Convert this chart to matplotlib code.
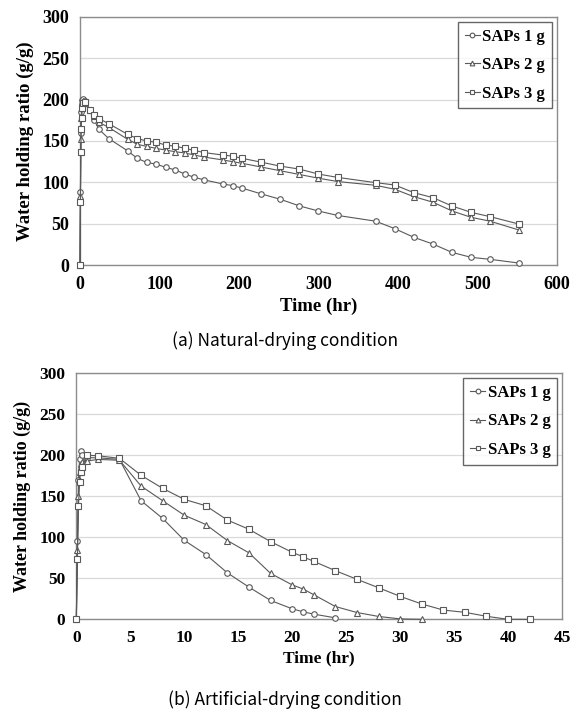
import matplotlib
matplotlib.use("Agg")
import matplotlib.pyplot as plt

# ---------------- Data: (a) natural drying ----------------
t_nat = [0, 0.5, 1, 1.5, 2, 3, 4, 6, 12, 18, 24, 36, 60, 72, 84, 96, 108, 120, 132,
         144, 156, 180, 192, 204, 228, 252, 276, 300, 324, 372, 396, 420, 444, 468,
         492, 516, 552]
nat_1g = [0, 88, 160, 185, 195, 200, 201, 198, 187, 175, 164, 153, 138, 129, 124, 122,
          118, 115, 110, 106, 103, 98, 96, 93, 86, 79.5, 71.5, 65.3, 60, 53, 44, 33.5,
          25.4, 15.3, 9.3, 6.9, 2.4]
nat_2g = [0, 83, 152, 178, 190, 196, 198, 196, 187, 180, 172.5, 166.5, 152, 146, 143.5,
          141, 139, 137, 135.5, 133, 130.6, 127, 125, 123, 118.5, 114, 109.5, 105, 101,
          96.4, 91.6, 82.7, 76, 65.4, 57.7, 53, 42.4]
nat_3g = [0, 76, 137, 165, 178, 190, 196, 197, 188, 182, 177, 171, 158, 153, 150, 148.4,
          145, 143.8, 141, 138.6, 136, 133, 131.7, 129, 124.4, 119.6, 116, 110, 106, 99.6,
          96.8, 87.5, 81.5, 71.4, 63.7, 58.5, 49.6]

# ---------------- Data: (b) artificial drying ----------------
t_art_1g = [0, 0.1, 0.2, 0.3, 0.4, 0.5, 1, 2, 4, 6, 8, 10, 12, 14, 16, 18, 20, 21, 22, 24]
art_1g = [0, 95, 170, 195, 205, 200, 197, 197, 195, 144.6, 123, 96.3, 79, 56.6, 39.2,
          23, 12.8, 9.2, 6.3, 1.8]
t_art_2g = [0, 0.1, 0.2, 0.3, 0.4, 0.5, 1, 2, 4, 6, 8, 10, 12, 14, 16, 18, 20, 21, 22,
            24, 26, 28, 30, 32]
art_2g = [0, 85, 150, 180, 190, 192, 193, 195, 194, 162.5, 144.6, 127, 115.6, 96, 81, 56,
          42, 37, 30, 15.6, 8.3, 3.5, 0.5, 0]
t_art_3g = [0, 0.1, 0.2, 0.3, 0.4, 0.5, 1, 2, 4, 6, 8, 10, 12, 14, 16, 18, 20, 21, 22,
            24, 26, 28, 30, 32, 34, 36, 38, 40, 42]
art_3g = [0, 74, 138, 168, 180, 186, 200, 199.5, 196.3, 175.6, 159.7, 146.3, 138.5, 121,
          109.8, 94.7, 81.7, 76.3, 70.7, 59.3, 48.8, 38.5, 28, 18.7, 11.3, 8.5, 3.7, 0, 0]

labels = ["SAPs 1 g", "SAPs 2 g", "SAPs 3 g"]
markers = ["o", "^", "s"]

SERIF = ["Liberation Serif", "DejaVu Serif"]
SANS = ["Noto Sans CJK KR", "DejaVu Sans"]

plt.rcParams["font.family"] = SERIF
plt.rcParams["font.weight"] = "bold"
plt.rcParams["axes.labelweight"] = "bold"

fig = plt.figure(figsize=(5.70, 7.13), dpi=100)


def style_axes(ax, xlim, xticks, ylim, yticks, fs):
    ax.set_xlim(*xlim)
    ax.set_ylim(*ylim)
    ax.set_xticks(xticks)
    ax.set_yticks(yticks)
    ax.grid(axis="y", color="#d9d9d9", linewidth=0.9)
    ax.set_axisbelow(True)
    for s in ax.spines.values():
        s.set_color("#8c8c8c")
        s.set_linewidth(1.0)
    ax.tick_params(length=0, pad=8, labelsize=fs)


def draw(ax, xs_list, ys_list, legsize):
    handles = []
    for xs, ys, lab, mk in zip(xs_list, ys_list, labels, markers):
        h, = ax.plot(xs, ys, color="#595959", linewidth=0.8, marker=mk,
                     markersize=4.0,
                     markerfacecolor="white", markeredgecolor="#595959",
                     markeredgewidth=0.8, label=lab, clip_on=False, zorder=3)
        handles.append(h)
    leg = ax.legend(handles=handles, loc="upper right", frameon=True, fancybox=False,
                    edgecolor="#404040", handlelength=0.9, handletextpad=0.15,
                    borderpad=0.4, labelspacing=0.75, borderaxespad=0.3,
                    markerscale=0.85,
                    prop={"family": SERIF, "weight": "bold", "size": legsize})
    leg.get_frame().set_linewidth(1.0)


# ---- top axes ----
ax1 = fig.add_axes([0.1404, 0.6283, 0.9770 - 0.1404, 0.9762 - 0.6283])
draw(ax1, [t_nat, t_nat, t_nat], [nat_1g, nat_2g, nat_3g], 12)
style_axes(ax1, (0, 600), range(0, 601, 100), (0, 300), range(0, 301, 50), 13)
ax1.set_xlabel("Time (hr)", fontsize=13.5, labelpad=3)
ax1.set_ylabel("Water holding ratio (g/g)", fontsize=13.5, labelpad=6)
fig.text(0.5, 1 - 341 / 713, "(a) Natural-drying condition", ha="center", va="center",
         fontfamily=SANS, fontweight="normal", fontsize=12.5)

# ---- bottom axes ----
ax2 = fig.add_axes([0.1339, 0.1314, 0.986 - 0.1339, 0.4764 - 0.1314])
draw(ax2, [t_art_1g, t_art_2g, t_art_3g], [art_1g, art_2g, art_3g], 12)
style_axes(ax2, (0, 45), range(0, 46, 5), (0, 300), range(0, 301, 50), 12.5)
ax2.set_xlabel("Time (hr)", fontsize=12.5, labelpad=3)
ax2.set_ylabel("Water holding ratio (g/g)", fontsize=13, labelpad=6)
fig.text(0.5, 1 - 700 / 713, "(b) Artificial-drying condition", ha="center", va="center",
         fontfamily=SANS, fontweight="normal", fontsize=12.5)

fig.savefig("out.png", dpi=100, facecolor="white")
